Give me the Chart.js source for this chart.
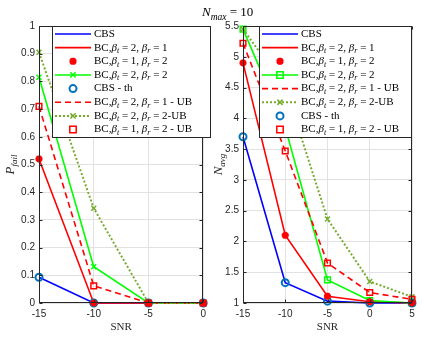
<!DOCTYPE html>
<html>
<head>
<meta charset="utf-8">
<script src="https://cdn.jsdelivr.net/npm/chart.js@4.4.0/dist/chart.umd.min.js"></script>
<style>
  html, body { margin: 0; padding: 0; background: #fff; }
  #wrap { position: relative; width: 422px; height: 354px; overflow: hidden; background: #fff; }
  #wrap canvas { position: absolute; top: 0; }
  #ttl { position: absolute; left: 202px; top: 4px; font-family: "Liberation Serif", serif; font-size: 13px; color: #000; white-space: nowrap; }
  #ttl sub { font-size: 9.5px; font-style: italic; }
</style>
</head>
<body>
<div id="wrap">
  <canvas id="left" width="211" height="354" style="left:0;width:211px;height:354px"></canvas>
  <canvas id="right" width="211" height="354" style="left:211px;width:211px;height:354px"></canvas>
  <div id="ttl"><i>N</i><sub>max</sub> = 10</div>
</div>
<script>
// x values (SNR)
const snrLeft = [-15, -10, -5, 0];
const snrRight = [-15, -10, -5, 0, 5];

// P_fail (left panel)
const pfailCBS    = [0.093, 0, 0, 0];
const pfailBC21   = [0.52, 0, 0, 0];
const pfailBC12   = [0.52, 0, 0, 0];
const pfailBC22   = [0.815, 0.131, 0, 0];
const pfailCBSth  = [0.093, 0, 0, 0];
const pfailBC21UB = [0.71, 0.062, 0, 0];
const pfailBC22UB = [0.905, 0.342, 0, 0];
const pfailBC12UB = [0.71, 0.062, 0, 0];

// N_avg (right panel)
const navgCBS    = [3.7, 1.33, 1.03, 1.0, 1.0];
const navgBC21   = [4.9, 2.1, 1.11, 1.02, 1.0];
const navgBC12   = [4.9, 2.1, 1.11, 1.02, 1.0];
const navgBC22   = [5.45, 3.85, 1.375, 1.04, 1.0];
const navgBC21UB = [5.22, 3.47, 1.65, 1.17, 1.06];
const navgBC22UB = [5.45, 4.5, 2.365, 1.35, 1.1];
const navgCBSth  = [3.7, 1.33, 1.03, 1.0, 1.0];
const navgBC12UB = [5.22, 3.47, 1.65, 1.17, 1.06];

// legend labels (* = italic, _ = subscript)
const lblCBS    = 'CBS';
const lblBC21   = 'BC,*β*_t = 2, *β*_r = 1';
const lblBC12   = 'BC,*β*_t = 1, *β*_r = 2';
const lblBC22   = 'BC,*β*_t = 2, *β*_r = 2';
const lblCBSth  = 'CBS - th';
const lblBC21UB = 'BC,*β*_t = 2, *β*_r = 1 - UB';
const lblBC22UB = 'BC,*β*_t = 2, *β*_r = 2-UB';
const lblBC12UB = 'BC,*β*_t = 1, *β*_r = 2 - UB';

// styles
const RED = '#ff0000', BLUE = '#0000ff', GREEN = '#00ff00', OLIVE = '#77ac30', MBLUE = '#0072bd';
const sCBS    = { color: BLUE, line: true, width: 1.6 };
const sBC21   = { color: RED, line: true, width: 1.6 };
const sBC12   = { color: RED, marker: 'star', r: 3.5, pw: 2.5 };
const sBC22x  = { color: GREEN, line: true, width: 1.6, marker: 'crossRot', r: 3.5, pw: 1.5 };
const sBC22sq = { color: GREEN, line: true, width: 1.6, marker: 'rect', r: 4, pw: 1.5 };
const sCBSth  = { color: MBLUE, marker: 'circle', r: 3.5, pw: 2 };
const sBC21UB = { color: RED, line: true, width: 1.6, dash: [6, 4] };
const sBC22UB = { color: OLIVE, line: true, width: 2, dash: [2, 2], marker: 'crossRot', r: 3.5, pw: 1.5 };
const sBC12UB = { color: RED, marker: 'rect', r: 4, pw: 1.5 };

function makeSet(xs, ys, st, idx, n) {
  return {
    data: xs.map((x, i) => ({ x: x, y: ys[i] })),
    borderColor: st.color,
    backgroundColor: 'transparent',
    borderWidth: st.line ? st.width : 0,
    showLine: !!st.line,
    borderDash: st.dash || [],
    pointStyle: st.marker || 'circle',
    pointRadius: st.marker ? st.r : 0,
    pointHoverRadius: st.marker ? st.r : 0,
    pointBorderColor: st.color,
    pointBackgroundColor: 'transparent',
    pointBorderWidth: st.pw || 1,
    tension: 0,
    clip: false,
    order: n - idx
  };
}

function parseRich(s) {
  const out = [];
  let buf = '', it = false, i = 0;
  const push = (t, st) => { if (t) out.push({ t: t, st: st }); };
  while (i < s.length) {
    const c = s[i];
    if (c === '*') { push(buf, it ? 'i' : 'n'); buf = ''; it = !it; i++; }
    else if (c === '_') {
      push(buf, it ? 'i' : 'n'); buf = '';
      let sub;
      if (s[i + 1] === '{') { const j = s.indexOf('}', i); sub = s.slice(i + 2, j); i = j + 1; }
      else { sub = s[i + 1]; i += 2; }
      out.push({ t: sub, st: 's' });
    } else { buf += c; i++; }
  }
  push(buf, it ? 'i' : 'n');
  return out;
}

function fontFor(st, size) {
  const fam = '"Liberation Serif", serif';
  if (st === 'n') return size + 'px ' + fam;
  if (st === 'i') return 'italic ' + size + 'px ' + fam;
  return 'italic ' + Math.round(size * 0.72) + 'px ' + fam;
}

function richWidth(ctx, parts, size) {
  let w = 0;
  parts.forEach(p => { ctx.font = fontFor(p.st, size); w += ctx.measureText(p.t).width; });
  return w;
}

function drawRich(ctx, s, x, y, size, center) {
  const parts = parseRich(s);
  if (center) x -= richWidth(ctx, parts, size) / 2;
  ctx.textBaseline = 'middle';
  ctx.textAlign = 'left';
  parts.forEach(p => {
    ctx.font = fontFor(p.st, size);
    const dy = p.st === 's' ? size * 0.3 : 0;
    ctx.fillText(p.t, x, y + dy);
    x += ctx.measureText(p.t).width;
  });
}

function drawMarker(ctx, st, x, y) {
  const r = st.r;
  ctx.save();
  ctx.strokeStyle = st.color;
  ctx.lineWidth = st.pw;
  ctx.setLineDash([]);
  ctx.beginPath();
  if (st.marker === 'circle') {
    ctx.arc(x, y, r, 0, Math.PI * 2);
  } else if (st.marker === 'rect') {
    const h = r * 0.8;
    ctx.rect(x - h, y - h, 2 * h, 2 * h);
  } else if (st.marker === 'crossRot') {
    const h = r * 0.75;
    ctx.moveTo(x - h, y - h); ctx.lineTo(x + h, y + h);
    ctx.moveTo(x + h, y - h); ctx.lineTo(x - h, y + h);
  } else if (st.marker === 'star') {
    ctx.moveTo(x - r, y); ctx.lineTo(x + r, y);
    ctx.moveTo(x, y - r); ctx.lineTo(x, y + r);
    const h = r * 0.75;
    ctx.moveTo(x - h, y - h); ctx.lineTo(x + h, y + h);
    ctx.moveTo(x + h, y - h); ctx.lineTo(x - h, y + h);
  }
  ctx.stroke();
  ctx.restore();
}

const decor = {
  id: 'decor',
  afterDatasetsDraw(chart, args, o) {
    const ctx = chart.ctx, a = chart.chartArea, xs = chart.scales.x, ys = chart.scales.y;
    ctx.save();
    // frame
    ctx.strokeStyle = '#262626';
    ctx.lineWidth = 1;
    const L = Math.round(a.left) + 0.5, R = Math.round(a.right) - 0.5;
    const T = Math.round(a.top) + 0.5, B = Math.round(a.bottom) - 0.5;
    ctx.strokeRect(L, T, R - L, B - T);
    // inward ticks on all sides
    ctx.beginPath();
    xs.ticks.forEach(t => {
      const px = Math.round(xs.getPixelForValue(t.value)) + 0.5;
      ctx.moveTo(px, B); ctx.lineTo(px, B - 3);
      ctx.moveTo(px, T); ctx.lineTo(px, T + 3);
    });
    ys.ticks.forEach(t => {
      const py = Math.round(ys.getPixelForValue(t.value)) + 0.5;
      ctx.moveTo(L, py); ctx.lineTo(L + 3, py);
      ctx.moveTo(R, py); ctx.lineTo(R - 3, py);
    });
    ctx.stroke();
    // axis titles
    ctx.fillStyle = '#262626';
    drawRich(ctx, 'SNR', (a.left + a.right) / 2, 327, 11, true);
    ctx.save();
    ctx.translate(o.yTitleX, (a.top + a.bottom) / 2);
    ctx.rotate(-Math.PI / 2);
    drawRich(ctx, o.yTitle, 0, 0, 13, true);
    ctx.restore();
    // legend
    const lg = o.legend;
    ctx.fillStyle = '#fff';
    ctx.fillRect(lg.x0, lg.y0, lg.x1 - lg.x0, lg.y1 - lg.y0);
    ctx.strokeStyle = '#262626';
    ctx.strokeRect(lg.x0 + 0.5, lg.y0 + 0.5, lg.x1 - lg.x0 - 1, lg.y1 - lg.y0 - 1);
    lg.items.forEach((it, k) => {
      const yy = lg.rowY + k * lg.rowH;
      const st = it.st;
      if (st.line) {
        ctx.save();
        ctx.strokeStyle = st.color;
        ctx.lineWidth = st.width;
        ctx.setLineDash(st.dash || []);
        ctx.beginPath();
        ctx.moveTo(lg.lx0, yy); ctx.lineTo(lg.lx1, yy);
        ctx.stroke();
        ctx.restore();
      }
      if (st.marker) drawMarker(ctx, st, (lg.lx0 + lg.lx1) / 2, yy);
      ctx.fillStyle = '#000';
      drawRich(ctx, it.label, lg.tx, yy, 11, false);
    });
    ctx.restore();
  }
};

const tickFmt = v => String(Math.round(v * 100) / 100);

function makeChart(id, xs, sets, xr, yr, pad, decorOpts) {
  const n = sets.length;
  return new Chart(document.getElementById(id), {
    type: 'line',
    data: { datasets: sets.map((s, i) => makeSet(xs, s.ys, s.st, i, n)) },
    options: {
      responsive: false,
      animation: false,
      events: [],
      layout: { padding: pad },
      plugins: { legend: { display: false }, tooltip: { enabled: false }, decor: decorOpts },
      scales: {
        x: {
          type: 'linear', min: xr[0], max: xr[1],
          ticks: { stepSize: 5, padding: 5, color: '#262626', font: { family: 'Liberation Sans', size: 10 }, callback: tickFmt },
          grid: { color: '#e2e2e2', drawTicks: false },
          border: { display: false },
          afterFit: s => { s.height = 51; }
        },
        y: {
          type: 'linear', min: yr[0], max: yr[1],
          ticks: { stepSize: yr[2], padding: 4, color: '#262626', font: { family: 'Liberation Sans', size: 10 }, callback: tickFmt },
          grid: { color: '#e2e2e2', drawTicks: false },
          border: { display: false },
          afterFit: s => { s.width = pad.yw; }
        }
      }
    },
    plugins: [decor]
  });
}

makeChart('left', snrLeft, [
  { ys: pfailCBS, st: sCBS },
  { ys: pfailBC21, st: sBC21 },
  { ys: pfailBC22, st: sBC22x },
  { ys: pfailCBSth, st: sCBSth },
  { ys: pfailBC21UB, st: sBC21UB },
  { ys: pfailBC22UB, st: sBC22UB },
  { ys: pfailBC12UB, st: sBC12UB },
  { ys: pfailBC12, st: sBC12 }
], [-15, 0], [0, 1, 0.1], { top: 26, right: 7, left: 0, bottom: 0, yw: 39 }, {
  yTitle: '*P*_{fail}', yTitleX: 11,
  legend: {
    x0: 52, y0: 26, x1: 211, y1: 138, rowY: 34, rowH: 13.65, lx0: 55, lx1: 91, tx: 94,
    items: [
      { label: lblCBS, st: sCBS }, { label: lblBC21, st: sBC21 }, { label: lblBC12, st: sBC12 },
      { label: lblBC22, st: sBC22x }, { label: lblCBSth, st: sCBSth }, { label: lblBC21UB, st: sBC21UB },
      { label: lblBC22UB, st: sBC22UB }, { label: lblBC12UB, st: sBC12UB }
    ]
  }
});

makeChart('right', snrRight, [
  { ys: navgCBS, st: sCBS },
  { ys: navgBC21, st: sBC21 },
  { ys: navgBC22, st: sBC22sq },
  { ys: navgBC21UB, st: sBC21UB },
  { ys: navgBC22UB, st: sBC22UB },
  { ys: navgCBSth, st: sCBSth },
  { ys: navgBC12UB, st: sBC12UB },
  { ys: navgBC12, st: sBC12 }
], [-15, 5], [1, 5.5, 0.5], { top: 26, right: 10, left: 0, bottom: 0, yw: 32 }, {
  yTitle: '*N*_{avg}', yTitleX: 8,
  legend: {
    x0: 48, y0: 26, x1: 201, y1: 138, rowY: 34, rowH: 13.65, lx0: 51, lx1: 87, tx: 90,
    items: [
      { label: lblCBS, st: sCBS }, { label: lblBC21, st: sBC21 }, { label: lblBC12, st: sBC12 },
      { label: lblBC22, st: sBC22sq }, { label: lblBC21UB, st: sBC21UB }, { label: lblBC22UB, st: sBC22UB },
      { label: lblCBSth, st: sCBSth }, { label: lblBC12UB, st: sBC12UB }
    ]
  }
});
</script>
</body>
</html>
